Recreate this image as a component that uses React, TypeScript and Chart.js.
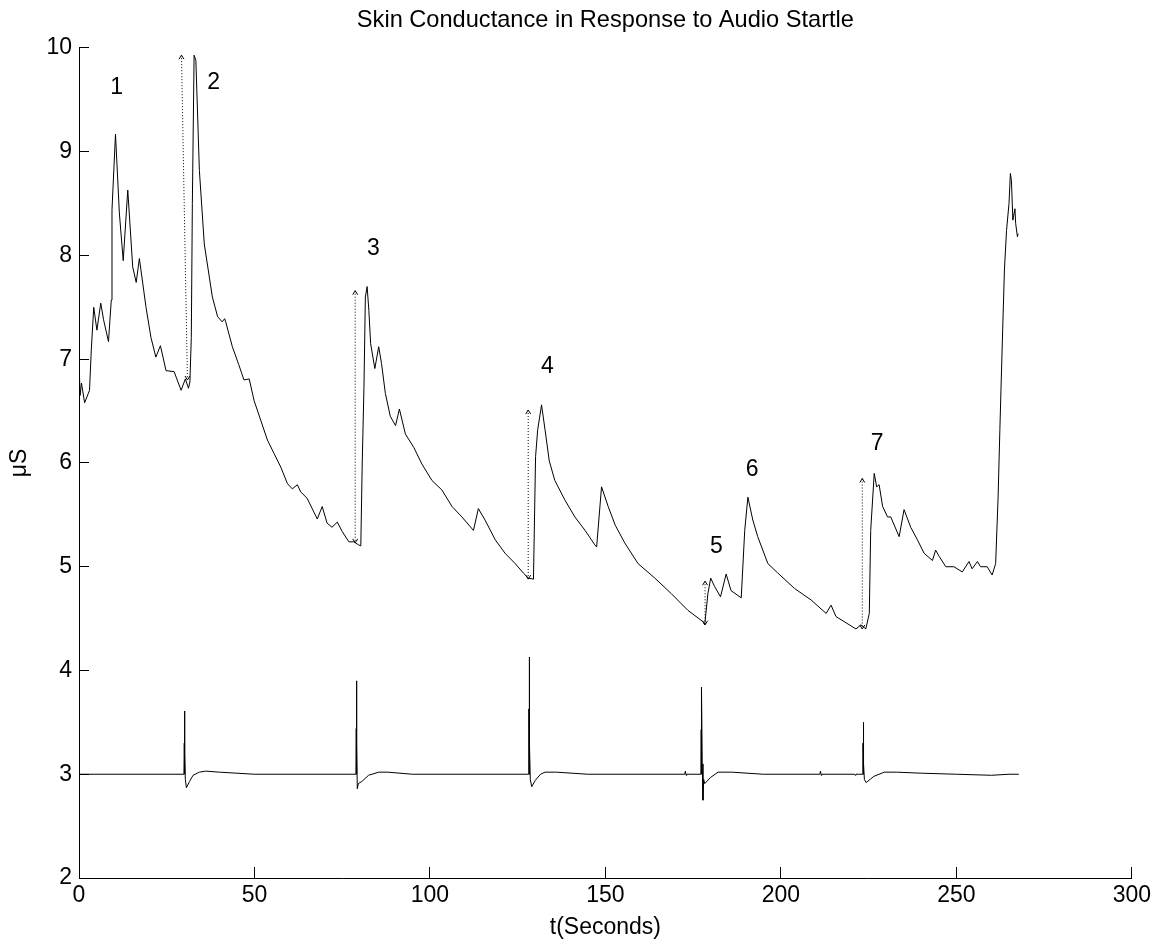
import React, { useEffect, useRef } from "react";
import { Chart, registerables } from "chart.js";

Chart.register(...registerables);

const FONT = "'Liberation Sans', Arial, Helvetica, sans-serif";

// Skin conductance trace (µS) vs time (s)
const scTime = [
  0.1, 0.3, 0.7, 1.6, 3.0, 3.5, 4.2, 5.1, 6.2, 7.0, 8.4, 9.2, 9.4, 10.4, 11.5, 12.6, 13.9, 15.3, 16.3, 17.2,
  19.1, 20.5, 21.9, 23.2, 24.8, 27.1, 29.1, 30.3, 31.2, 31.6, 32.0, 32.3, 32.8, 33.3, 34.3, 35.7, 38.0, 39.5,
  40.8, 41.5, 41.8, 43.7, 45.5, 47.0, 48.5, 49.9, 51.8, 53.7, 55.6, 57.5, 59.4, 60.8, 62.2, 63.2, 65.0, 67.9,
  69.3, 70.7, 72.1, 73.6, 75.0, 76.9, 78.3, 79.7, 80.3, 80.7, 81.2, 81.6, 82.1, 82.6, 83.1, 84.3, 85.4, 86.2,
  87.3, 88.7, 90.2, 91.3, 93.0, 95.4, 97.7, 100.6, 103.4, 106.3, 109.1, 112.4, 113.8, 115.7, 118.6, 121.4,
  124.3, 126.6, 128.1, 129.5, 130.1, 130.7, 131.8, 132.8, 134.0, 135.6, 138.5, 141.3, 144.2, 147.0, 147.5, 148.9,
  150.8, 152.8, 155.5, 159.3, 164.1, 168.8, 173.5, 177.8, 178.3, 179.2, 180.0, 181.1, 182.8, 184.4, 185.8, 188.7,
  189.7, 190.6, 192.0, 193.4, 196.3, 199.1, 203.9, 208.6, 212.9, 214.3, 215.7, 221.4, 222.8, 224.2, 225.2,
  225.6, 226.6, 227.3, 228.0, 229.0, 230.4, 231.3, 233.7, 235.1, 237.0, 238.9, 240.8, 243.2, 244.1, 245.1,
  247.0, 249.3, 251.7, 253.6, 254.5, 256.0, 256.9, 258.8, 260.2, 261.2, 261.9, 262.4, 262.8, 263.2, 263.7,
  264.3, 265.0, 265.4, 265.7, 266.1, 266.7, 266.9, 267.4, 267.6,
];
const scValue = [
  6.89, 6.65, 6.77, 6.58, 6.7, 7.09, 7.5, 7.28, 7.54, 7.38, 7.17, 7.57, 8.44, 9.17, 8.41, 7.95, 8.63, 7.89, 7.74, 7.97,
  7.5, 7.21, 7.02, 7.13, 6.89, 6.88, 6.7, 6.81, 6.72, 6.78, 7.21, 8.5, 9.93, 9.88, 8.82, 8.11, 7.6, 7.41,
  7.36, 7.39, 7.36, 7.12, 6.95, 6.8, 6.81, 6.6, 6.41, 6.22, 6.09, 5.96, 5.8, 5.75, 5.79, 5.72, 5.66, 5.46,
  5.58, 5.42, 5.38, 5.43, 5.34, 5.24, 5.24, 5.21, 5.2, 5.99, 6.73, 7.6, 7.7, 7.47, 7.15, 6.91, 7.12, 6.96,
  6.67, 6.45, 6.36, 6.52, 6.28, 6.15, 5.99, 5.83, 5.74, 5.58, 5.48, 5.35, 5.56, 5.45, 5.26, 5.13,
  5.03, 4.94, 4.89, 4.88, 6.06, 6.32, 6.56, 6.32, 6.02, 5.83, 5.64, 5.48, 5.35, 5.21, 5.19, 5.77,
  5.58, 5.4, 5.23, 5.03, 4.89, 4.74, 4.58, 4.47, 4.44, 4.74, 4.89, 4.81, 4.71, 4.93, 4.77, 4.7,
  5.35, 5.67, 5.45, 5.29, 5.03, 4.94, 4.79, 4.68, 4.55, 4.63, 4.52, 4.4, 4.44, 4.4, 4.55,
  5.35, 5.9, 5.77, 5.79, 5.58, 5.48, 5.48, 5.29, 5.55, 5.38, 5.26, 5.13, 5.06, 5.16, 5.1,
  5.0, 5.0, 4.95, 5.05, 4.98, 5.05, 5.0, 5.0, 4.92, 5.03, 5.67, 6.32, 6.8, 7.28, 7.86,
  8.24, 8.5, 8.79, 8.72, 8.34, 8.45, 8.31, 8.18, 8.21,
];

// Audio startle signal trace
const startleTime = [
  0, 29.9, 30.0, 30.05, 30.1, 30.2, 30.3, 30.6, 31.5, 32.5, 34.3, 36.1, 40, 45, 50,
  78.9, 79.0, 79.05, 79.1, 79.2, 79.3, 79.6, 80.6, 82.5, 85.4, 88, 95,
  128.1, 128.2, 128.25, 128.3, 128.4, 128.6, 129.0, 130.0, 131.5, 132.8, 136, 145,
  172.6, 172.8, 173.0, 173.2,
  177.2, 177.3, 177.35, 177.4, 177.6, 177.8, 178.0, 178.3, 180, 182.1, 186, 195,
  211.1, 211.3, 211.5, 211.7, 221.0, 221.2, 221.4,
  223.3, 223.4, 223.45, 223.5, 223.6, 223.8, 224.3, 226.5, 229.5, 233, 240, 250, 260, 265, 267.8,
];
const startleValue = [
  3.0, 3.0, 3.3, 3.0, 3.61, 3.2, 2.95, 2.87, 2.93, 2.99, 3.02, 3.03, 3.02, 3.01, 3.0,
  3.0, 3.44, 3.0, 3.9, 3.3, 2.86, 2.91, 2.93, 2.99, 3.02, 3.02, 3.0,
  3.0, 3.63, 3.0, 4.13, 3.3, 2.95, 2.88, 2.94, 3.0, 3.02, 3.02, 3.0,
  3.0, 3.03, 2.99, 3.0,
  3.0, 3.43, 3.0, 3.84, 3.1, 2.75, 2.95, 2.91, 2.97, 3.02, 3.02, 3.0,
  3.0, 3.03, 2.99, 3.0, 3.0, 2.99, 3.0,
  3.0, 3.3, 3.0, 3.5, 3.1, 2.95, 2.92, 2.98, 3.02, 3.02, 3.01, 3.0, 2.99, 3.0, 3.0,
];

// Dotted double-headed arrows marking response amplitudes
const arrowTopT = [29.2, 78.7, 128.0, 178.4, 223.2];
const arrowTopY = [9.93, 7.66, 6.51, 4.86, 5.85];
const arrowBottomT = [30.9, 78.7, 128.0, 178.4, 223.2];
const arrowBottomY = [6.8, 5.23, 4.88, 4.44, 4.4];

// Numbered response labels
const labelText = ["1", "2", "3", "4", "5", "6", "7"];
const labelT = [10.7, 38.4, 83.9, 133.5, 181.6, 191.8, 227.4];
const labelY = [9.62, 9.67, 8.07, 6.93, 5.19, 5.94, 6.19];

const xTicks = [0, 50, 100, 150, 200, 250, 300];
const yTicks = [2, 3, 4, 5, 6, 7, 8, 9, 10];

const toPoints = (xs: number[], ys: number[]) => xs.map((x, i) => ({ x, y: ys[i] }));

const annotationPlugin = {
  id: "annotations",
  afterDatasetsDraw(chart: any) {
    const { ctx, scales } = chart;
    const x = scales.x;
    const y = scales.y;
    ctx.save();
    ctx.strokeStyle = "#000";
    ctx.lineWidth = 1;
    arrowTopT.forEach((t, i) => {
      const xt = x.getPixelForValue(t);
      const yt = y.getPixelForValue(arrowTopY[i]);
      const xb = x.getPixelForValue(arrowBottomT[i]);
      const yb = y.getPixelForValue(arrowBottomY[i]);
      ctx.beginPath();
      ctx.moveTo(xt - 2.5, yt + 4);
      ctx.lineTo(xt, yt);
      ctx.lineTo(xt + 2.5, yt + 4);
      ctx.stroke();
      ctx.beginPath();
      ctx.moveTo(xb - 2.5, yb - 4);
      ctx.lineTo(xb, yb);
      ctx.lineTo(xb + 2.5, yb - 4);
      ctx.stroke();
    });
    ctx.font = `23px ${FONT}`;
    ctx.fillStyle = "#000";
    ctx.textAlign = "center";
    ctx.textBaseline = "middle";
    labelText.forEach((txt, i) => {
      ctx.fillText(txt, x.getPixelForValue(labelT[i]), y.getPixelForValue(labelY[i]));
    });
    ctx.restore();
  },
};

export default function App() {
  const canvasRef = useRef<HTMLCanvasElement>(null);

  useEffect(() => {
    document.body.style.margin = "0";
    const canvas = canvasRef.current;
    if (!canvas) return;

    const arrowSets = arrowTopT.map((t, i) => ({
      label: `arrow ${i + 1}`,
      data: [
        { x: t, y: arrowTopY[i] },
        { x: arrowBottomT[i], y: arrowBottomY[i] },
      ],
      borderColor: "#000",
      borderWidth: 1,
      borderDash: [1, 2],
      pointRadius: 0,
      fill: false,
      tension: 0,
    }));

    const chart = new Chart(canvas, {
      type: "line",
      data: {
        datasets: [
          {
            label: "Skin conductance",
            data: toPoints(scTime, scValue),
            borderColor: "#000",
            borderWidth: 1,
            pointRadius: 0,
            fill: false,
            tension: 0,
          },
          {
            label: "Audio startle",
            data: toPoints(startleTime, startleValue),
            borderColor: "#000",
            borderWidth: 1,
            pointRadius: 0,
            fill: false,
            tension: 0,
          },
          ...arrowSets,
        ],
      },
      options: {
        responsive: false,
        animation: false,
        events: [],
        layout: { padding: { left: 0, right: 31, top: 0, bottom: 0 } },
        plugins: {
          legend: { display: false },
          tooltip: { enabled: false },
          title: {
            display: true,
            text: "Skin Conductance in Response to Audio Startle",
            fullSize: false,
            color: "#000",
            font: { family: FONT, size: 23.6, weight: "normal" },
            padding: { top: 6.5, bottom: 13.1 },
          },
        },
        scales: {
          x: {
            type: "linear",
            min: 0,
            max: 300,
            afterFit: (s: any) => {
              s.height = 66;
            },
            afterBuildTicks: (s: any) => {
              s.ticks = xTicks.map((v) => ({ value: v }));
            },
            ticks: {
              color: "#000",
              font: { family: FONT, size: 23 },
              padding: 15,
              maxRotation: 0,
              autoSkip: false,
            },
            grid: {
              drawOnChartArea: false,
              drawTicks: true,
              tickLength: -11,
              color: "#000",
              lineWidth: 1,
            },
            border: { display: true, color: "#000", width: 1 },
            title: {
              display: true,
              text: "t(Seconds)",
              color: "#000",
              font: { family: FONT, size: 23 },
              padding: { top: 0, bottom: 3 },
            },
          },
          y: {
            type: "linear",
            min: 2,
            max: 10,
            afterFit: (s: any) => {
              s.width = 79;
            },
            afterBuildTicks: (s: any) => {
              s.ticks = yTicks.map((v) => ({ value: v }));
            },
            ticks: {
              color: "#000",
              font: { family: FONT, size: 23 },
              padding: 17,
              autoSkip: false,
            },
            grid: {
              drawOnChartArea: false,
              drawTicks: true,
              tickLength: -10,
              color: "#000",
              lineWidth: 1,
            },
            border: { display: true, color: "#000", width: 1 },
            title: {
              display: true,
              text: "μS",
              color: "#000",
              font: { family: FONT, size: 23 },
              padding: { top: 6, bottom: 0 },
            },
          },
        },
      },
      plugins: [annotationPlugin],
    } as any);

    return () => chart.destroy();
  }, []);

  return <canvas ref={canvasRef} width={1166} height={944} style={{ display: "block" }} />;
}
